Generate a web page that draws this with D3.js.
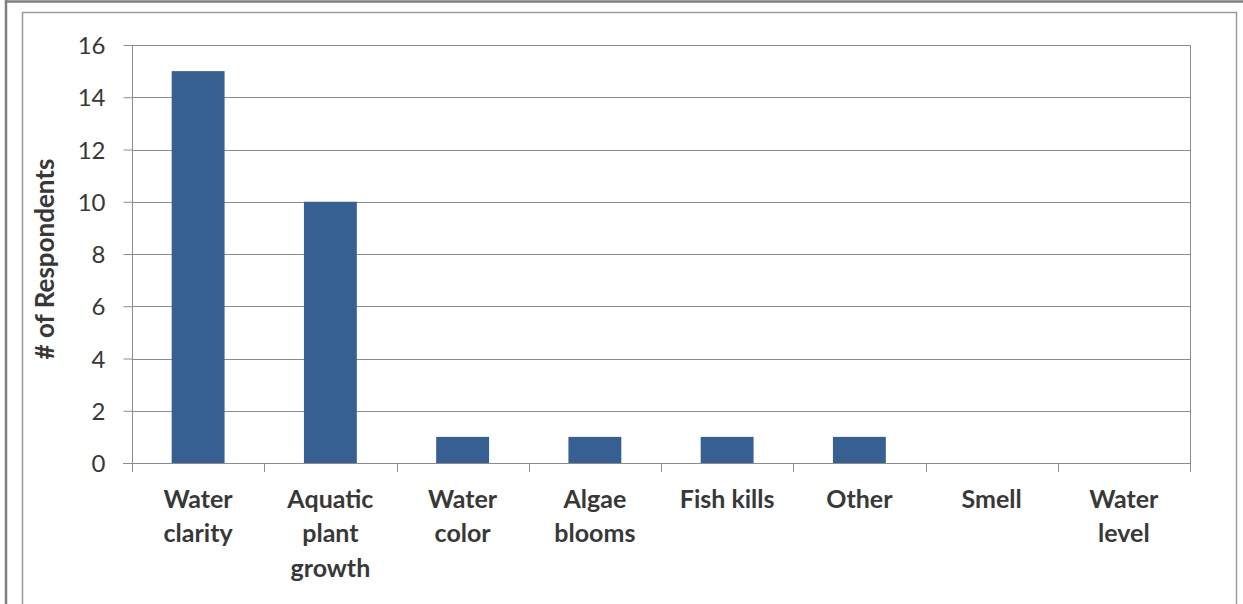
<!DOCTYPE html>
<html>
<head>
<meta charset="utf-8">
<script src="https://cdn.jsdelivr.net/npm/d3@7"></script>
<style>
  html, body { margin: 0; padding: 0; background: #fff; }
  svg { display: block; }
  text { font-family: Lato, "Open Sans", sans-serif; fill: #383838; }
</style>
</head>
<body>
<svg id="chart" width="1243" height="604"></svg>
<script>
// Survey responses: water-quality concerns
const categories = [
  ["Water", "clarity"],
  ["Aquatic", "plant", "growth"],
  ["Water", "color"],
  ["Algae", "blooms"],
  ["Fish kills"],
  ["Other"],
  ["Smell"],
  ["Water", "level"]
];
const respondents = [15, 10, 1, 1, 1, 1, 0, 0];
const yTicks = [0, 2, 4, 6, 8, 10, 12, 14, 16];
const yTitle = "# of Respondents";

const W = 1243, H = 604;
const plot = { left: 132, right: 1190, top: 45, bottom: 463 };
const svg = d3.select("#chart");

// page frame and chart frame
svg.append("line").attr("x1", 6).attr("x2", W).attr("y1", 1.5).attr("y2", 1.5)
  .attr("stroke", "#808080").attr("stroke-width", 2.5);
svg.append("line").attr("x1", 6).attr("x2", 6).attr("y1", 0).attr("y2", H)
  .attr("stroke", "#808080").attr("stroke-width", 2.5);
svg.append("rect").attr("x", 22.5).attr("y", 12.5).attr("width", 1236.5 - 22.5).attr("height", H + 20)
  .attr("fill", "none").attr("stroke", "#9a9a9a").attr("stroke-width", 1.5);

const keys = categories.map((c, i) => i);
const x = d3.scaleBand().domain(keys).range([plot.left, plot.right]).paddingInner(0.6).paddingOuter(0.3);
const y = d3.scaleLinear().domain([0, 16]).range([plot.bottom, plot.top]);

// horizontal gridlines
svg.append("g").selectAll("line").data(yTicks.filter(t => t > 0)).join("line")
  .attr("x1", plot.left).attr("x2", plot.right)
  .attr("y1", d => Math.round(y(d)) + 0.5).attr("y2", d => Math.round(y(d)) + 0.5)
  .attr("stroke", "#8c8c8c").attr("stroke-width", 1);

// right edge of plot area
svg.append("line").attr("x1", plot.right + 0.5).attr("x2", plot.right + 0.5)
  .attr("y1", plot.top).attr("y2", plot.bottom)
  .attr("stroke", "#8c8c8c").attr("stroke-width", 1);

// bars
svg.append("g").selectAll("rect").data(respondents).join("rect")
  .attr("x", (d, i) => x(i))
  .attr("width", x.bandwidth())
  .attr("y", d => y(d))
  .attr("height", d => y(0) - y(d))
  .attr("fill", "#376092");

// y axis
const yAxis = d3.axisLeft(y).tickValues(yTicks).tickSize(9).tickPadding(18).tickFormat(d3.format("d"));
const gy = svg.append("g").attr("transform", `translate(${plot.left + 0.5},0)`).call(yAxis);
gy.select(".domain").attr("stroke", "#8c8c8c").attr("d", `M-9,${plot.bottom + 0.5}H0V${plot.top}`);
gy.selectAll(".tick line").attr("stroke", "#8c8c8c");
gy.selectAll(".tick text").style("font-family", "Lato, sans-serif").style("font-size", "24px")
  .style("fill", "#383838").attr("dy", "0.36em");

// x axis line and boundary ticks
const bounds = d3.range(keys.length + 1).map(i => plot.left + i * (plot.right - plot.left) / keys.length);
svg.append("line").attr("x1", plot.left - 9).attr("x2", plot.right)
  .attr("y1", plot.bottom + 0.5).attr("y2", plot.bottom + 0.5)
  .attr("stroke", "#8c8c8c").attr("stroke-width", 1);
svg.append("g").selectAll("line").data(bounds).join("line")
  .attr("x1", d => Math.round(d) + 0.5).attr("x2", d => Math.round(d) + 0.5)
  .attr("y1", plot.bottom).attr("y2", plot.bottom + 9)
  .attr("stroke", "#8c8c8c").attr("stroke-width", 1);

// category labels
const lab = svg.append("g").selectAll("text").data(categories).join("text")
  .attr("text-anchor", "middle")
  .attr("transform", (d, i) => `translate(${x(i) + x.bandwidth() / 2},508)`)
  .style("font-size", "25px").style("font-weight", "bold");
lab.selectAll("tspan").data(d => d).join("tspan")
  .attr("x", 0).attr("y", (d, j) => j * 34.3).text(d => d);

// y axis title
svg.append("text")
  .attr("transform", `translate(54,${(plot.top + plot.bottom) / 2 + 5}) rotate(-90)`)
  .attr("text-anchor", "middle")
  .style("font-size", "26px").style("font-weight", "bold")
  .text(yTitle);
</script>
</body>
</html>
